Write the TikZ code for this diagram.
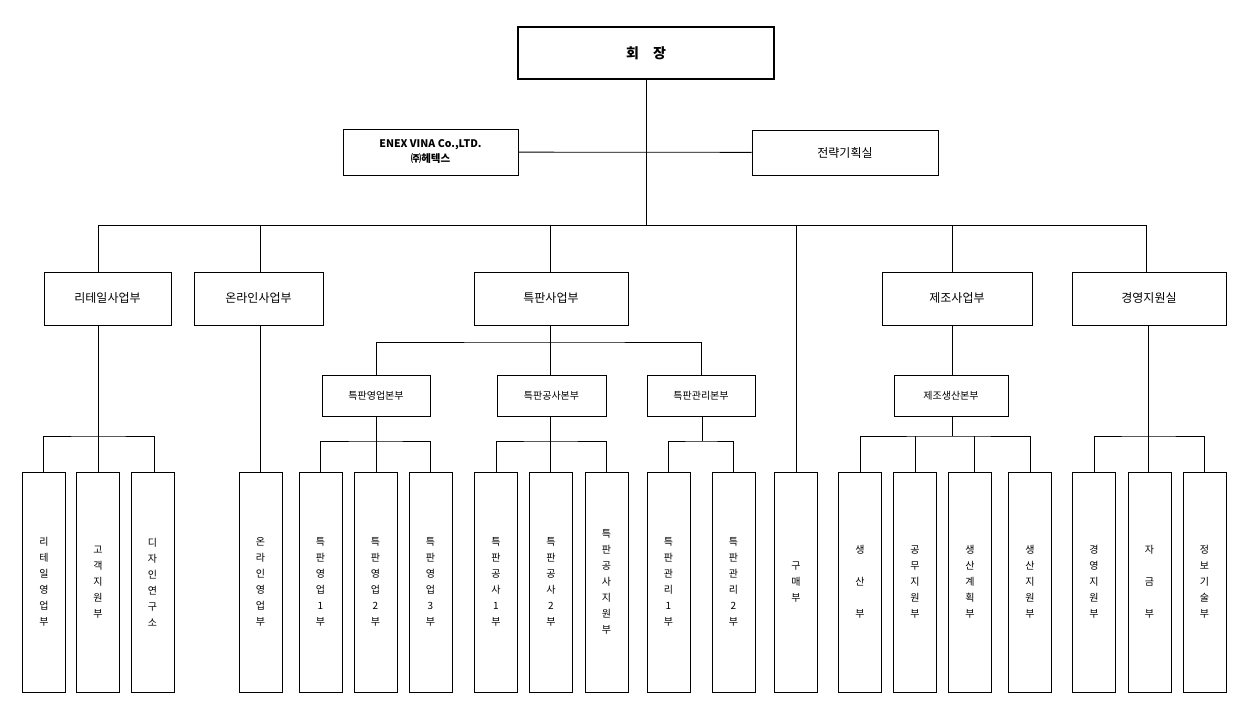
\documentclass[tikz,border=0pt]{standalone}
\usepackage{fontspec}
\setmainfont{Noto Sans CJK KR}
\usepackage{tikz}
\usetikzlibrary{positioning}

\begin{document}
\begin{tikzpicture}[x=1pt, y=-1pt, line width=0.8pt,
    box/.style={draw, line width=1pt, inner sep=0pt, align=center, font=\fontsize{12}{14}\selectfont},
    head/.style={box, minimum height=53pt},
    sub/.style={box, minimum height=41pt, font=\fontsize{10}{12}\selectfont},
    leaf/.style={box, minimum width=43pt, minimum height=220pt, font=\fontsize{10}{16}\selectfont}]
    \useasboundingbox (0,0) rectangle (1250,717);
    % top
    \node (ceo) at (646,53) [box, line width=2pt, minimum width=256pt, minimum height=52pt, font=\fontsize{14}{16}\selectfont\bfseries] {회\quad 장};
    \node (enex) at (430.5,152) [box, minimum width=175pt, minimum height=46pt, font=\fontsize{10.5}{15}\selectfont\bfseries] {ENEX VINA Co.,LTD.\\㈜헤텍스};
    \node (plan) at (845,152.5) [box, minimum width=186pt, minimum height=45pt] {전략기획실};
    \coordinate (trunk) at (646,225);
    \draw (ceo) -- (trunk);
    \draw (enex) -- (plan);

    % divisions
    \node (ret) at (107.5,298.5) [head, minimum width=127pt] {리테일사업부};
    \node (onl) at (258.5,298.5) [head, minimum width=129pt] {온라인사업부};
    \node (spc) at (551,298.5) [head, minimum width=154pt] {특판사업부};
    \node (pur) at (796,582) [leaf] {구\\매\\부};
    \node (mfg) at (957,298.5) [head, minimum width=150pt] {제조사업부};
    \node (mgt) at (1149,298.5) [head, minimum width=154pt] {경영지원실};
    \coordinate (tl) at (98,225);
    \coordinate (tr) at (1146,225);
    \draw (ret.north -| tl) |- (tr) -- (mgt.north -| tr);
    \foreach \n/\x in {onl/260, spc/550, pur/796, mfg/952}
        \draw (\n.north -| \x,0) -- (\x,225);

    % retail
    \node (r1) at (44,582) [leaf] {리\\테\\일\\영\\업\\부};
    \node (r2) at (98,582) [leaf] {고\\객\\지\\원\\부};
    \node (r3) at (152.5,582) [leaf] {디\\자\\인\\연\\구\\소};
    \coordinate (jr) at (98,436);
    \draw (ret.south -| jr) -- (r2);
    \draw (r1.north -| 43,0) |- (jr) -| (r3.north -| 154,0);

    % online
    \node (o1) at (260.5,582) [leaf] {온\\라\\인\\영\\업\\부};
    \draw (onl.south -| 260,0) -- (o1.north -| 260,0);

    % special sales
    \node (sa) at (376,395.5) [sub, minimum width=108pt] {특판영업본부};
    \node (sb) at (551.5,395.5) [sub, minimum width=109pt] {특판공사본부};
    \node (sc) at (701,395.5) [sub, minimum width=108pt] {특판관리본부};
    \coordinate (js) at (550,342);
    \draw (spc.south -| js) -- (sb.north -| js);
    \draw (sa) |- (js) -| (sc);
    \node (a1) at (320.5,582) [leaf] {특\\판\\영\\업\\1\\부};
    \node (a2) at (375.5,582) [leaf] {특\\판\\영\\업\\2\\부};
    \node (a3) at (430.5,582) [leaf] {특\\판\\영\\업\\3\\부};
    \coordinate (ja) at (376,441);
    \draw (sa.south -| ja) -- (a2.north -| ja);
    \draw (a1) |- (ja) -| (a3);
    \node (b1) at (496,582) [leaf] {특\\판\\공\\사\\1\\부};
    \node (b2) at (551,582) [leaf] {특\\판\\공\\사\\2\\부};
    \node (b3) at (606.5,582) [leaf] {특\\판\\공\\사\\지\\원\\부};
    \coordinate (jb) at (550,441);
    \draw (sb.south -| jb) -- (b2.north -| jb);
    \draw (b1) |- (jb) -| (b3);
    \node (c1) at (668.5,582) [leaf] {특\\판\\관\\리\\1\\부};
    \node (c2) at (733.5,582) [leaf] {특\\판\\관\\리\\2\\부};
    \coordinate (jc) at (702,441);
    \draw (sc.south -| jc) -- (jc);
    \draw (c1) |- (jc) -| (c2);

    % manufacturing
    \node (ma) at (951,395.5) [sub, minimum width=114pt] {제조생산본부};
    \draw (mfg.south -| 952,0) -- (ma.north -| 952,0);
    \node (m1) at (860,582) [leaf] {생\\~\\산\\~\\부};
    \node (m2) at (915,582) [leaf] {공\\무\\지\\원\\부};
    \node (m3) at (970,582) [leaf] {생\\산\\계\\획\\부};
    \node (m4) at (1030,582) [leaf] {생\\산\\지\\원\\부};
    \coordinate (jm) at (952,436);
    \draw (ma.south -| jm) -- (jm);
    \draw (m1) |- (jm) -| (m4);
    \draw (m3.north -| 974,0) -- (974,436);
    \draw (m2.north -| 915,0) -- (915,436);

    % management
    \node (g1) at (1094,582) [leaf] {경\\영\\지\\원\\부};
    \node (g2) at (1149.5,582) [leaf] {자\\~\\금\\~\\부};
    \node (g3) at (1204.5,582) [leaf] {정\\보\\기\\술\\부};
    \coordinate (jg) at (1148,436);
    \draw (mgt.south -| jg) -- (g2.north -| jg);
    \draw (g1) |- (jg) -| (g3);
\end{tikzpicture}
\end{document}
